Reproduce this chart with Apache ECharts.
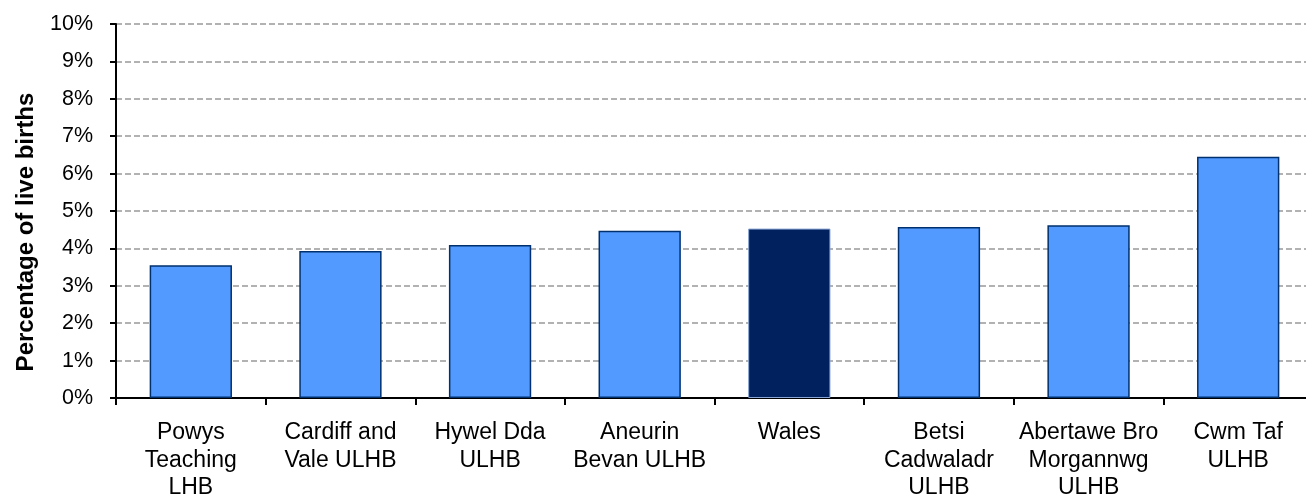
<!DOCTYPE html>
<html>
<head>
<meta charset="utf-8">
<script src="https://cdn.jsdelivr.net/npm/echarts@6/dist/echarts.min.js"></script>
<style>
html,body{margin:0;padding:0;background:#fff;}
#chart{width:1306px;height:496px;}
</style>
</head>
<body>
<div id="chart"></div>
<script>
const categories = ["Powys\nTeaching\nLHB", "Cardiff and\nVale ULHB", "Hywel Dda\nULHB", "Aneurin\nBevan ULHB", "Wales", "Betsi\nCadwaladr\nULHB", "Abertawe Bro\nMorgannwg\nULHB", "Cwm Taf\nULHB"];
const values = [3.55, 3.93, 4.09, 4.47, 4.53, 4.57, 4.62, 6.45];
const highlight = "Wales";
const yTicks = [0, 1, 2, 3, 4, 5, 6, 7, 8, 9, 10];

const chart = echarts.init(document.getElementById('chart'), null, {renderer: 'canvas'});
const font = "'Liberation Sans', Arial, sans-serif";
chart.setOption({
  animation: false,
  grid: {left: 116, right: -7, top: 24, bottom: 98, containLabel: false, outerBoundsMode: 'none'},
  xAxis: {
    type: 'category',
    data: categories,
    axisLine: {lineStyle: {color: '#000', width: 2}},
    axisTick: {show: true, alignWithLabel: false, length: 7, lineStyle: {color: '#000', width: 2}},
    axisLabel: {color: '#000', fontFamily: font, fontSize: 23, lineHeight: 27.5, margin: 21, interval: 0}
  },
  yAxis: {
    type: 'value',
    min: 0, max: 10, interval: 1,
    name: 'Percentage of live births',
    nameLocation: 'middle',
    nameGap: 78,
    nameRotate: 90,
    nameTextStyle: {color: '#000', fontFamily: font, fontSize: 24, fontWeight: 'bold', padding: [0, 42, 0, 0]},
    axisLine: {show: true, lineStyle: {color: '#000', width: 2}},
    axisTick: {show: true, length: 6, lineStyle: {color: '#000', width: 2}},
    axisLabel: {color: '#000', fontFamily: font, fontSize: 21.5, margin: 23,
      formatter: v => yTicks.includes(v) ? v + '%' : ''},
    splitLine: {show: true, lineStyle: {color: '#999', width: 1.5, type: [6, 3]}}
  },
  series: [{
    type: 'bar',
    barWidth: '55%',
    data: categories.map((c, i) => ({
      value: values[i],
      itemStyle: c === highlight
        ? {color: '#00215E', borderColor: '#8aa6d6', borderWidth: 1}
        : {color: '#529AFF', borderColor: '#00306E', borderWidth: 1.5}
    }))
  }]
});
</script>
</body>
</html>
